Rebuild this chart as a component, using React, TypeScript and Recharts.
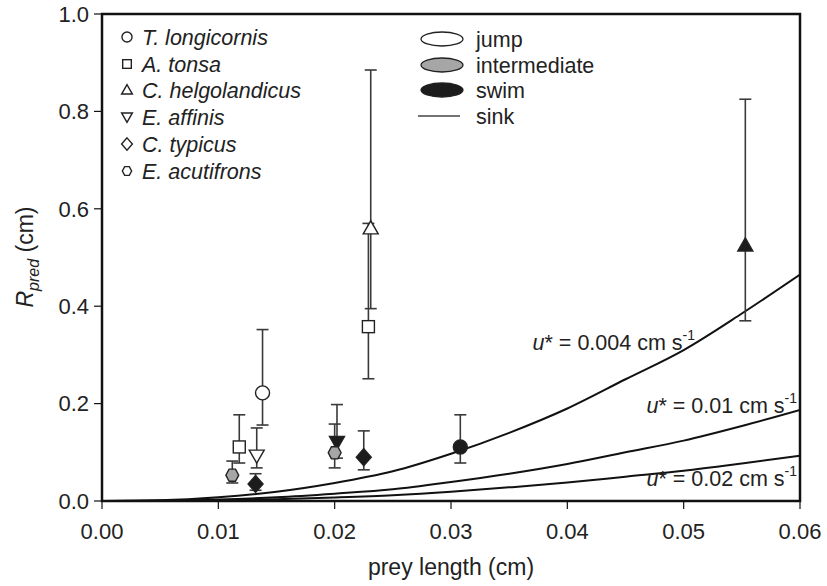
import React from "react";
import {
  ComposedChart,
  Scatter,
  Line,
  XAxis,
  YAxis,
  ErrorBar,
  ReferenceArea,
} from "recharts";

// ---------- data ----------
const speciesNames = [
  "T. longicornis",
  "A. tonsa",
  "C. helgolandicus",
  "E. affinis",
  "C. typicus",
  "E. acutifrons",
];
const speciesMarkers = ["circle", "square", "triangleUp", "triangleDown", "diamond", "hexagon"];
const behaviourNames = ["jump", "intermediate", "swim", "sink"];
const behaviourFills = ["#ffffff", "#a6a6a6", "#1c1c1c"];

// observations
const preyLength = [0.0112, 0.0118, 0.0133, 0.0132, 0.0138, 0.0202, 0.02, 0.0225, 0.0229, 0.0231, 0.0308, 0.0553];
const rPred = [0.053, 0.111, 0.093, 0.035, 0.222, 0.121, 0.099, 0.09, 0.358, 0.56, 0.111, 0.525];
const rLow = [0.037, 0.078, 0.068, 0.022, 0.156, 0.088, 0.068, 0.064, 0.251, 0.395, 0.078, 0.37];
const rHigh = [0.082, 0.177, 0.15, 0.056, 0.352, 0.198, 0.158, 0.144, 0.57, 0.885, 0.177, 0.825];
const speciesIdx = [5, 1, 3, 4, 0, 3, 5, 4, 1, 2, 0, 2];
const behaviourIdx = [1, 0, 0, 2, 0, 2, 1, 2, 0, 0, 2, 2];

// sink curves
const curveX = [0, 0.005, 0.01, 0.015, 0.02, 0.025, 0.03, 0.035, 0.04, 0.045, 0.05, 0.055, 0.06];
const sinkU004 = [0, 0.0015, 0.0076, 0.019, 0.037, 0.061, 0.097, 0.14, 0.19, 0.25, 0.31, 0.385, 0.465];
const sinkU01 = [0, 0.0006, 0.003, 0.0076, 0.015, 0.024, 0.039, 0.056, 0.076, 0.1, 0.124, 0.154, 0.187];
const sinkU02 = [0, 0.0003, 0.0015, 0.0038, 0.0074, 0.012, 0.019, 0.028, 0.038, 0.05, 0.062, 0.077, 0.093];
const curveLabels = ["0.004", "0.01", "0.02"];

const xTicks = [0, 0.01, 0.02, 0.03, 0.04, 0.05, 0.06];
const yTicks = [0, 0.2, 0.4, 0.6, 0.8, 1.0];

// ---------- derived tables ----------
const points = preyLength.map((x, i) => ({
  x,
  y: rPred[i],
  err: [rPred[i] - rLow[i], rHigh[i] - rPred[i]],
  kind: speciesMarkers[speciesIdx[i]],
  fill: behaviourFills[behaviourIdx[i]],
}));
const mkCurve = (ys: number[]) => curveX.map((x, i) => ({ x, y: ys[i] }));

const FONT = "'Liberation Sans', Arial, Helvetica, sans-serif";
const STROKE = "#222";
const FS = 21.5;

function Marker({ cx, cy, kind, fill, s = 1 }: any) {
  const sw = 1.4;
  switch (kind) {
    case "circle":
      return <circle cx={cx} cy={cy} r={7 * s} fill={fill} stroke={STROKE} strokeWidth={sw} />;
    case "square":
      return (
        <rect x={cx - 6 * s} y={cy - 6 * s} width={12 * s} height={12 * s} fill={fill} stroke={STROKE} strokeWidth={sw} />
      );
    case "triangleUp": {
      const h = 7.5 * s;
      return (
        <polygon
          points={`${cx},${cy - h} ${cx - 7.5 * s},${cy + h * 0.75} ${cx + 7.5 * s},${cy + h * 0.75}`}
          fill={fill}
          stroke={STROKE}
          strokeWidth={sw}
        />
      );
    }
    case "triangleDown": {
      const h = 7.5 * s;
      return (
        <polygon
          points={`${cx},${cy + h} ${cx - 7.5 * s},${cy - h * 0.75} ${cx + 7.5 * s},${cy - h * 0.75}`}
          fill={fill}
          stroke={STROKE}
          strokeWidth={sw}
        />
      );
    }
    case "diamond":
      return (
        <polygon
          points={`${cx},${cy - 8.5 * s} ${cx + 7.5 * s},${cy} ${cx},${cy + 8.5 * s} ${cx - 7.5 * s},${cy}`}
          fill={fill}
          stroke={STROKE}
          strokeWidth={sw}
        />
      );
    case "hexagon": {
      const r = 7 * s;
      const pts = [0, 1, 2, 3, 4, 5]
        .map((k) => {
          const a = (Math.PI / 3) * k + Math.PI / 6 + Math.PI / 2;
          return `${cx + r * 0.92 * Math.cos(a)},${cy + r * Math.sin(a)}`;
        })
        .join(" ");
      return <polygon points={pts} fill={fill} stroke={STROKE} strokeWidth={sw} />;
    }
    default:
      return null;
  }
}

const renderPoint = (props: any) => {
  const { cx, cy, payload } = props;
  return <Marker cx={cx} cy={cy} kind={payload.kind} fill={payload.fill} />;
};

function CurveLabel({ x, y, value, anchor = "end" }: any) {
  return (
    <text x={x} y={y} fontFamily={FONT} fontSize={FS} fill="#222" textAnchor={anchor}>
      <tspan fontStyle="italic">u</tspan>
      <tspan>* = {value} cm s</tspan>
      <tspan fontSize={14} dy={-10}>-1</tspan>
    </text>
  );
}

export default function App() {
  const legendRows = [38, 65, 91, 118, 145, 172];
  const legend2Rows = [40, 66, 91, 117];
  return (
    <div style={{ position: "absolute", left: 0, top: 0, width: 827, height: 586, background: "#fff" }}>
      <ComposedChart width={827} height={586} margin={{ top: 14, right: 27, bottom: 25, left: 0 }}>
        <XAxis
          type="number"
          dataKey="x"
          domain={[0, 0.06]}
          ticks={xTicks}
          allowDataOverflow
          tickFormatter={(v: number) => v.toFixed(2)}
          height={60}
          tickSize={8}
          tickMargin={14}
          stroke="#111"
          strokeWidth={2}
          tick={{ fontFamily: FONT, fontSize: 22, fill: "#222" }}
          tickLine={{ stroke: "#111", strokeWidth: 1.2 }}
        />
        <YAxis
          type="number"
          dataKey="y"
          domain={[0, 1]}
          ticks={yTicks}
          allowDataOverflow
          tickFormatter={(v: number) => v.toFixed(1)}
          width={102}
          tickSize={8}
          tickMargin={5}
          stroke="#111"
          strokeWidth={2}
          tick={{ fontFamily: FONT, fontSize: 22, fill: "#222" }}
          tickLine={{ stroke: "#111", strokeWidth: 1.2 }}
        />
        <ReferenceArea x1={0} x2={0.06} y1={0} y2={1} fill="none" stroke="#111" strokeWidth={2.5} ifOverflow="visible" />
        <Line data={mkCurve(sinkU004)} dataKey="y" type="monotone" dot={false} stroke="#111" strokeWidth={2} isAnimationActive={false} />
        <Line data={mkCurve(sinkU01)} dataKey="y" type="monotone" dot={false} stroke="#111" strokeWidth={2} isAnimationActive={false} />
        <Line data={mkCurve(sinkU02)} dataKey="y" type="monotone" dot={false} stroke="#111" strokeWidth={2} isAnimationActive={false} />
        <Scatter data={points} dataKey="y" shape={renderPoint} isAnimationActive={false}>
          <ErrorBar dataKey="err" direction="y" width={6} stroke="#3a3a3a" strokeWidth={1.6} />
        </Scatter>
      </ComposedChart>
      <svg
        width={827}
        height={586}
        style={{ position: "absolute", left: 0, top: 0, pointerEvents: "none" }}
      >
        {/* axis titles */}
        <text
          transform="translate(33,257) rotate(-90)"
          textAnchor="middle"
          fontFamily={FONT}
          fontSize={23}
          fill="#222"
        >
          <tspan fontStyle="italic">R</tspan>
          <tspan fontStyle="italic" fontSize={16} dy={6}>pred</tspan>
          <tspan dy={-6}> (cm)</tspan>
        </text>
        <text x={451} y={575} textAnchor="middle" fontFamily={FONT} fontSize={23} fill="#222">
          prey length (cm)
        </text>

        {/* species legend */}
        {speciesNames.map((name, i) => (
          <g key={name}>
            <Marker cx={127} cy={legendRows[i] - 1} kind={speciesMarkers[i]} fill="#fff" s={0.72} />
            <text x={142} y={legendRows[i] + 7} fontFamily={FONT} fontSize={FS} fontStyle="italic" fill="#222">
              {name}
            </text>
          </g>
        ))}

        {/* behaviour legend */}
        {behaviourNames.map((name, i) => (
          <g key={name}>
            {i < 3 ? (
              <ellipse cx={442} cy={legend2Rows[i] - 1} rx={21} ry={7} fill={behaviourFills[i]} stroke={STROKE} strokeWidth={1.3} />
            ) : (
              <line x1={418} x2={460} y1={legend2Rows[i] - 1} y2={legend2Rows[i] - 1} stroke="#444" strokeWidth={1.5} />
            )}
            <text x={476} y={legend2Rows[i] + 7} fontFamily={FONT} fontSize={FS} fill="#222">
              {name}
            </text>
          </g>
        ))}

        {/* curve labels */}
        <CurveLabel x={695} y={350} value={curveLabels[0]} />
        <CurveLabel x={797} y={413} value={curveLabels[1]} />
        <CurveLabel x={797} y={486} value={curveLabels[2]} />
      </svg>
    </div>
  );
}
